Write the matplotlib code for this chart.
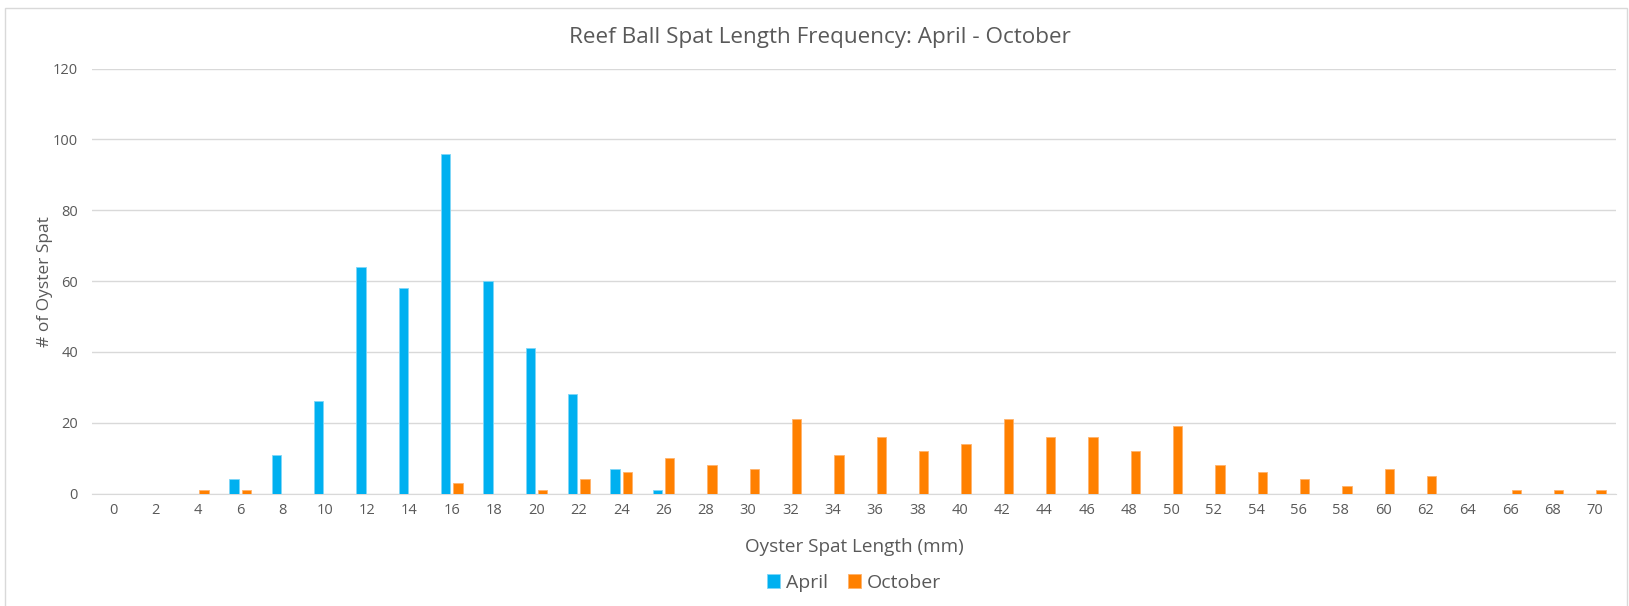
"""Reef ball spat length frequency, April vs October"""

import matplotlib.pyplot as plt
import numpy as np
from matplotlib.patches import Rectangle

lengths = list(range(0, 71, 2))
april = [0, 0, 0, 4, 11, 26, 64, 58, 96, 60, 41, 28, 7, 1,
         0, 0, 0, 0, 0, 0, 0, 0, 0, 0, 0, 0, 0, 0, 0, 0, 0, 0, 0, 0, 0, 0]
october = [0, 0, 1, 1, 0, 0, 0, 0, 3, 0, 1, 4, 6, 10, 8, 7, 21, 11, 16, 12,
           14, 21, 16, 16, 12, 19, 8, 6, 4, 2, 7, 5, 0, 1, 1, 1]

plt.rcParams["font.family"] = ["Open Sans", "DejaVu Sans"]
GREY = "#595959"

fig = plt.figure(figsize=(16.29, 6.06), dpi=100)
W, H = 1629, 606
ax = fig.add_axes([92 / W, 1 - 493.5 / H, (1616 - 92) / W, (493.5 - 68.6) / H])
xmid = (92 + 1616) / 2 / W

x = np.arange(len(lengths))
bw = 0.22
off = 0.142
ax.bar(x - off, april, width=bw, color="#00B0F0", edgecolor="#7fd6f7",
       linewidth=0.6, label="April", zorder=3)
ax.bar(x + off, october, width=bw, color="#FF8000", edgecolor="#ffb26b",
       linewidth=0.6, label="October", zorder=3)

ax.set_xlim(-0.5, len(lengths) - 0.5)
ax.set_ylim(0, 120)
ax.set_yticks(range(0, 121, 20))
ax.set_xticks(x)
ax.set_xticklabels([str(v) for v in lengths])
ax.tick_params(length=0, labelsize=10.5, colors=GREY)
ax.tick_params(axis="x", pad=7)
ax.tick_params(axis="y", pad=10)
ax.grid(axis="y", color="#D9D9D9", linewidth=1, zorder=0)
for s in ["top", "right", "left"]:
    ax.spines[s].set_visible(False)
ax.spines["bottom"].set_color("#D9D9D9")

fig.text(xmid, 1 - 547 / H, "Oyster Spat Length (mm)", ha="center",
         va="center", fontsize=13.6, color=GREY)
fig.text(45 / W, 1 - 282 / H, "# of Oyster Spat", ha="center", va="center",
         rotation=90, fontsize=12.5, color=GREY)
fig.text(820 / W, 1 - 38 / H, "Reef Ball Spat Length Frequency: April - October",
         ha="center", va="center", fontsize=16.2, color=GREY)

fig.legend(loc="center", bbox_to_anchor=(xmid, 1 - 583 / H), ncol=2,
           frameon=False, fontsize=14, handlelength=0.7, handleheight=0.7,
           columnspacing=1.0, handletextpad=0.3, labelcolor=GREY)

# thin chart-area border
fig.patches.append(Rectangle((5 / W, -0.01), (1627 - 5) / W, 1 - 8 / H + 0.01,
                             transform=fig.transFigure, fill=False,
                             edgecolor="#D9D9D9", linewidth=1))

plt.savefig("out.png")
